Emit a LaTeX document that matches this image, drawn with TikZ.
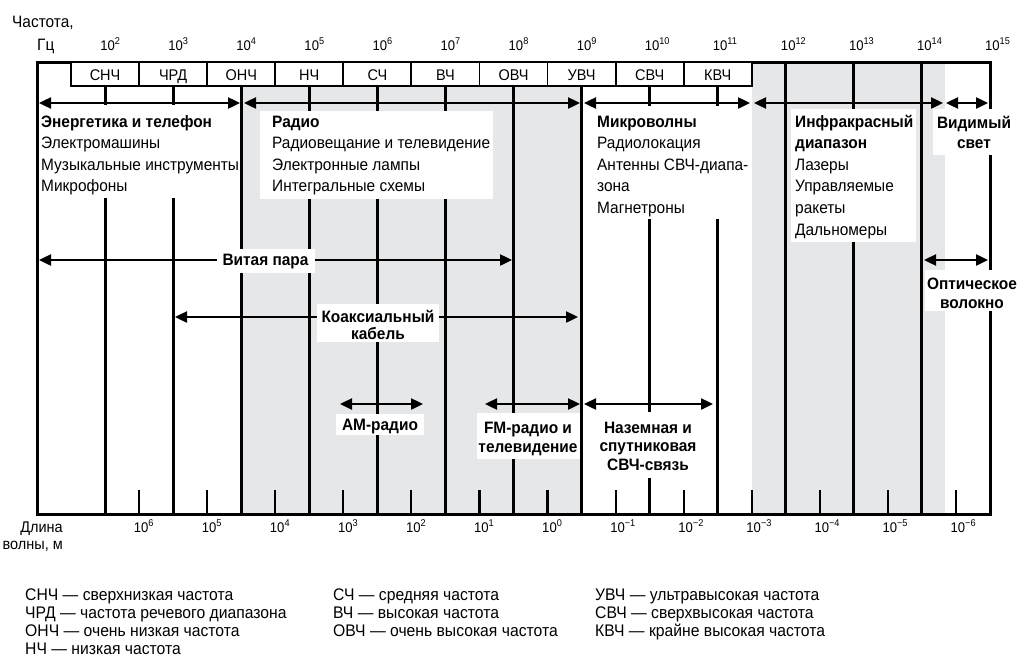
\documentclass[tikz,border=0pt]{standalone}
\usepackage{fontspec}
\setmainfont{Liberation Sans}[FakeStretch=0.935]
\usetikzlibrary{arrows.meta}
\definecolor{bandgray}{RGB}{230,231,232}
\begin{document}
\begin{tikzpicture}[x=1pt,y=-1pt,
  txt/.style={inner sep=0pt, font=\fontsize{16.5}{21.6}\selectfont},
  lbl/.style={inner sep=0pt, font=\fontsize{16.5}{18.5}\selectfont\bfseries, anchor=base},
  num/.style={inner sep=0pt, font=\fontsize{14}{16}\selectfont, anchor=base west},
  leg/.style={inner sep=0pt, font=\fontsize{16.8}{18}\selectfont, anchor=base west},
  arr/.style={line width=2.4pt, {Triangle[length=12pt,width=11pt]}-{Triangle[length=12pt,width=11pt]}},
  dec/.style={line width=3pt},
  tk/.style={line width=2.2pt},
  bandbox/.style={draw, line width=1.8pt, fill=white},
  mask/.style={fill=white}]
\useasboundingbox (0,0) rectangle (1018,664);

% gray zones
\fill[bandgray] (241,62) rectangle (582,514);
\fill[bandgray] (752,62) rectangle (945,514);

% decade lines
\foreach \k in {1,...,10} \draw[dec] ({37+68.07*\k},86) -- ({37+68.07*\k},514);
\foreach \k in {11,12,13} \draw[dec] ({37+68.07*\k},62) -- ({37+68.07*\k},514);
% half-decade ticks
\foreach \k in {1,...,13} \draw[tk] ({37+68.07*(\k+0.5)},490) -- ({37+68.07*(\k+0.5)},514);

% frame
\draw[line width=3pt] (37,62) rectangle (990,514);

% band boxes
\foreach \i/\t in {0/СНЧ,1/ЧРД,2/ОНЧ,3/НЧ,4/СЧ,5/ВЧ,6/ОВЧ,7/УВЧ,8/СВЧ,9/КВЧ}{
  \draw[bandbox] ({37+68.07*(\i+0.5)},62) rectangle ({37+68.07*(\i+1.5)},86);
  \node[inner sep=0pt, font=\fontsize{15.5}{16}\selectfont, anchor=base] (b\i) at ({37+68.07*(\i+1)},80) {\t};
}

% white masks behind labels
\fill[mask] (40,105) rectangle (238,198);
\fill[mask] (260,111) rectangle (493,199);
\fill[mask] (590,106) rectangle (745,219);
\fill[mask] (791,109) rectangle (916,242);
\fill[mask] (933,109) rectangle (1018,155);
\fill[mask] (925,270) rectangle (1018,311);
\fill[mask] (336,414) rectangle (424,435);
\fill[mask] (477,413) rectangle (580,459);
\fill[mask] (597,412) rectangle (700,478);

% arrow end points
\coordinate (e1) at (39,103);   \coordinate (e2) at (240,103);
\coordinate (r1) at (244,103);  \coordinate (r2) at (580,103);
\coordinate (m1) at (584,103);  \coordinate (m2) at (750,103);
\coordinate (i1) at (754,103);  \coordinate (i2) at (943,103);
\coordinate (v1) at (946,103);  \coordinate (v2) at (988,103);
\coordinate (t1) at (39,260);   \coordinate (t2) at (512,260);
\coordinate (o1) at (924,260);  \coordinate (o2) at (988,260);
\coordinate (c1) at (175,317);  \coordinate (c2) at (578,317);
\coordinate (a1) at (340,404);  \coordinate (a2) at (423,404);
\coordinate (fm1) at (485,404); \coordinate (fm2) at (580,404);
\coordinate (n1) at (584,404);  \coordinate (n2) at (713,404);

\draw[arr] (e1) -- (e2);
\draw[arr] (r1) -- (r2);
\draw[arr] (m1) -- (m2);
\draw[arr] (i1) -- (i2);
\draw[arr] (v1) -- (v2);
\draw[arr] (t1) -- (t2);
\draw[arr] (o1) -- (o2);
\draw[arr] (c1) -- (c2);
\draw[arr] (a1) -- (a2);
\draw[arr] (fm1) -- (fm2);
\draw[arr] (n1) -- (n2);

% masks that interrupt arrows
\fill[mask] (217,249) rectangle (315,273);
\fill[mask] (317,304) rectangle (439,342);

% text blocks
\node[txt, anchor=base west] (energy) at (41,127) {\parbox[t]{220pt}{\raggedright{\bfseries Энергетика и телефон}\\Электромашины\\Музыкальные инструменты\\Микрофоны}};
\node[txt, anchor=base west] (radio) at (272,127) {\parbox[t]{230pt}{\raggedright{\bfseries Радио}\\Радиовещание и телевидение\\Электронные лампы\\Интегральные схемы}};
\node[txt, anchor=base west] (micro) at (597,127) {\parbox[t]{160pt}{\raggedright{\bfseries Микроволны}\\Радиолокация\\Антенны СВЧ-диапа-\\зона\\Магнетроны}};
\node[txt, anchor=base west] (ir) at (795,127) {\parbox[t]{130pt}{\raggedright{\bfseries Инфракрасный}\\{\bfseries диапазон}\\Лазеры\\Управляемые\\ракеты\\Дальномеры}};
\node[lbl, font=\fontsize{16.5}{20}\selectfont\bfseries] (vis) at (974,128) {\parbox[t]{100pt}{\centering Видимый\\свет}};
\node[lbl, font=\fontsize{16.5}{19}\selectfont\bfseries] (opt) at (972,289) {\parbox[t]{100pt}{\centering Оптическое\\волокно}};
\node[lbl] (twist) at (265.5,265) {\parbox[t]{120pt}{\centering Витая пара}};
\node[lbl, font=\fontsize{16.5}{17}\selectfont\bfseries] (coax) at (378,322) {\parbox[t]{140pt}{\centering Коаксиальный\\кабель}};
\node[lbl] (am) at (380,430) {\parbox[t]{100pt}{\centering АМ-радио}};
\node[lbl, font=\fontsize{16.5}{19}\selectfont\bfseries] (fm) at (528,433) {\parbox[t]{120pt}{\centering FM-радио и\\телевидение}};
\node[lbl] (sat) at (648,433) {\parbox[t]{120pt}{\centering Наземная и\\спутниковая\\СВЧ-связь}};

% axis captions
\node[txt, anchor=base west] (fcap1) at (12,27) {Частота,};
\node[txt, anchor=base west] (fcap2) at (37,50) {Гц};
\foreach \k in {2,...,15} \node[num] (f\k) at ({37+68.07*(\k-1)-5},50) {10\textsuperscript{\k}};
\node[txt, anchor=base east, font=\fontsize{15.5}{18}\selectfont] (wcap1) at (63,532) {Длина};
\node[txt, anchor=base east, font=\fontsize{15.5}{18}\selectfont] (wcap2) at (63,549) {волны, м};
\foreach \i/\e in {1/6,2/5,3/4,4/3,5/2,6/1,7/0,8/−1,9/−2,10/−3,11/−4,12/−5,13/−6}
  \node[num] (w\i) at ({37+68.07*(\i+0.5)-5.5},532) {10\textsuperscript{\e}};

% legend
\node[leg] (leg1) at (25,600) {\parbox[t]{300pt}{СНЧ — сверхнизкая частота\\ЧРД — частота речевого диапазона\\ОНЧ — очень низкая частота\\НЧ — низкая частота}};
\node[leg] (leg2) at (333,600) {\parbox[t]{260pt}{СЧ — средняя частота\\ВЧ — высокая частота\\ОВЧ — очень высокая частота}};
\node[leg] (leg3) at (595,600) {\parbox[t]{300pt}{УВЧ — ультравысокая частота\\СВЧ — сверхвысокая частота\\КВЧ — крайне высокая частота}};
\end{tikzpicture}
\end{document}
